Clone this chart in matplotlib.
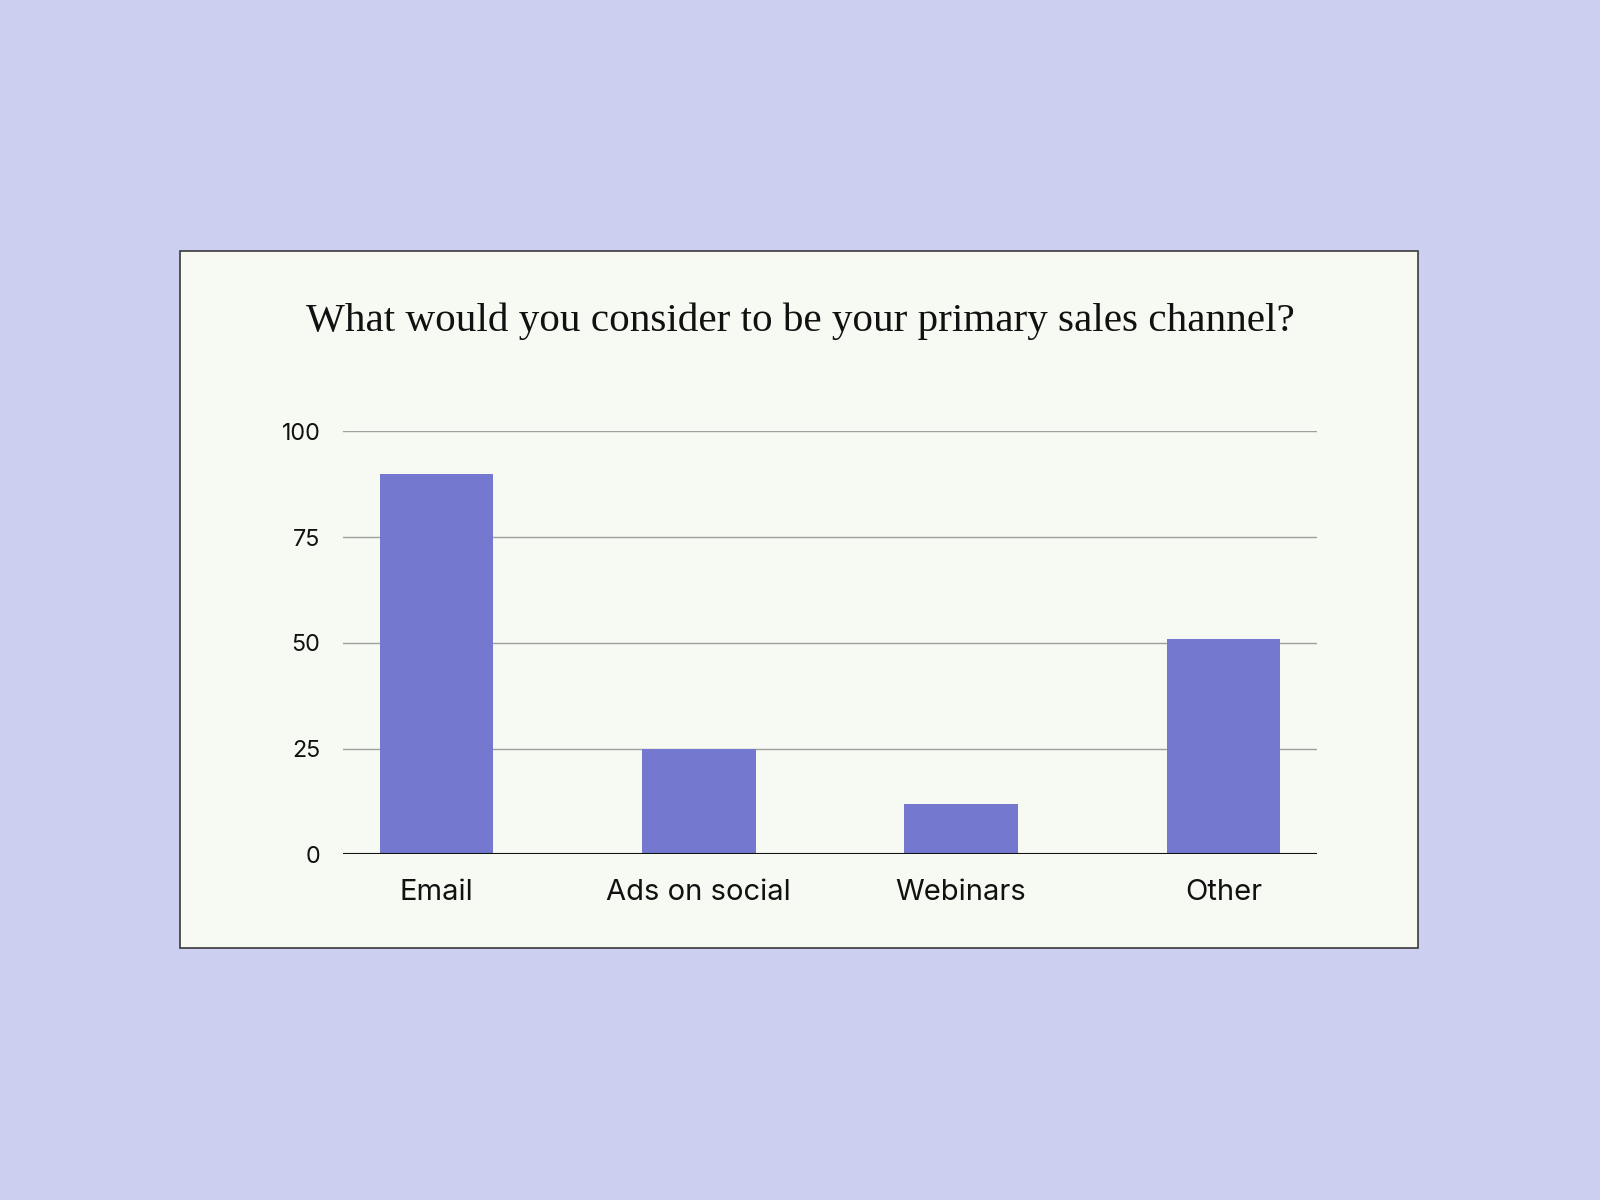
import matplotlib.pyplot as plt
from matplotlib.patches import Rectangle

categories = ['Email', 'Ads on social', 'Webinars', 'Other']
values = [90, 25, 12, 51]
y_ticks = [0, 25, 50, 75, 100]

outer_bg = '#CDCFF0'
card_bg = '#F7FAF2'
bar_color = '#7578CF'

fig = plt.figure(figsize=(16, 12), dpi=100, facecolor=outer_bg)

# card behind the chart
card = Rectangle((0.1125, 0.21), 0.774, 0.581, transform=fig.transFigure,
                 facecolor=card_bg, edgecolor='#3a3a3a', linewidth=1.2, zorder=-1)
fig.patches.append(card)

fig.text(0.5, 0.7325, 'What would you consider to be your primary sales channel?',
         ha='center', va='center', fontsize=29.6, family='Liberation Serif', color='#111111')

ax = fig.add_axes([0.2142, 0.2881, 0.6091, 0.3525])
ax.set_zorder(2)
ax.set_facecolor('none')
x = range(len(categories))
ax.bar(x, values, width=0.433, color=bar_color, zorder=2)

ax.set_xlim(-0.358, len(categories) - 1 + 0.358)
ax.set_ylim(0, 100)
ax.set_yticks(y_ticks)
ax.set_yticklabels([str(v) for v in y_ticks], family='Inter', fontsize=16.8)
ax.set_xticks(list(x))
ax.set_xticklabels(categories, family='Inter', fontsize=21)
ax.tick_params(axis='both', length=0, colors='#111111')
ax.tick_params(axis='y', pad=16)
ax.tick_params(axis='x', pad=17.5)

for v in y_ticks[1:]:
    ax.axhline(v, color='#a0a0a0', linewidth=1.0, zorder=1)
ax.axhline(0, color='#111111', linewidth=1.5, zorder=3)

for s in ax.spines.values():
    s.set_visible(False)

fig.savefig('out.png', dpi=100, facecolor=outer_bg)
